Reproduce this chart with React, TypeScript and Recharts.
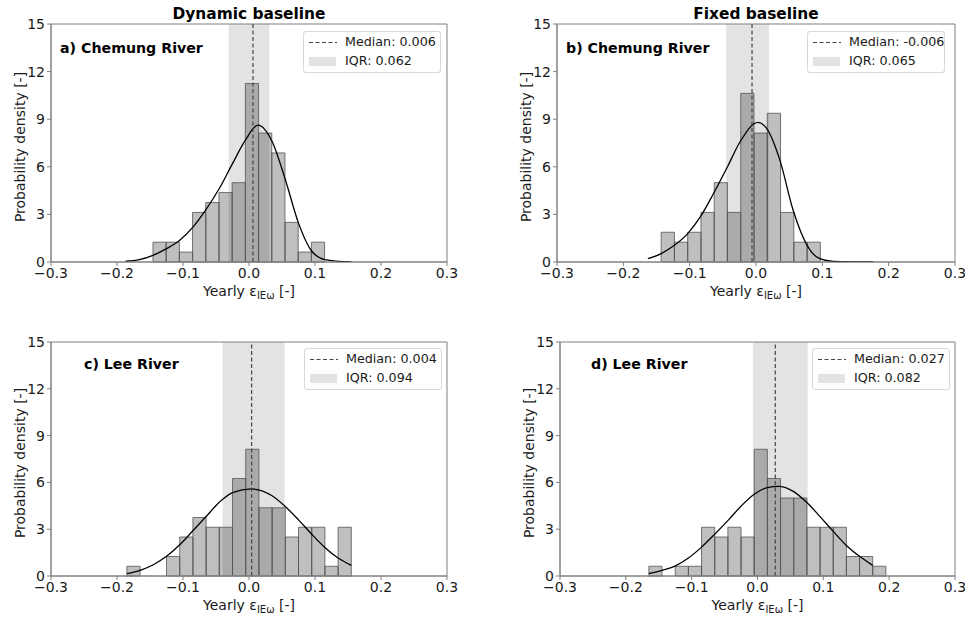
import { ComposedChart, Line, XAxis, YAxis, ReferenceArea, ReferenceLine } from "recharts";

const xTicks = [-0.3, -0.2, -0.1, 0, 0.1, 0.2, 0.3];
const yTicks = [0, 3, 6, 9, 12, 15];

const titles = ["Dynamic baseline", "Fixed baseline"];

// a) Chemung River, dynamic baseline
const edgesA = [-0.1455, -0.1255, -0.1055, -0.0855, -0.0655, -0.0455, -0.0255, -0.0055, 0.0145, 0.0345, 0.0545, 0.0745, 0.0945, 0.1145];
const densA = [1.25, 1.25, 0.625, 3.125, 3.75, 4.375, 5.0, 11.25, 8.125, 6.875, 2.5, 0.625, 1.25];
const curveA = [
  { x: -0.187, y: 0.05 }, { x: -0.166, y: 0.15 }, { x: -0.1455, y: 0.42 }, { x: -0.125, y: 0.84 },
  { x: -0.105, y: 1.37 }, { x: -0.085, y: 2.2 }, { x: -0.066, y: 3.26 }, { x: -0.045, y: 4.63 },
  { x: -0.025, y: 6.2 }, { x: -0.0055, y: 7.68 }, { x: 0.0136, y: 8.63 }, { x: 0.035, y: 7.6 },
  { x: 0.055, y: 5.2 }, { x: 0.075, y: 2.45 }, { x: 0.094, y: 0.74 }, { x: 0.115, y: 0.15 },
  { x: 0.155, y: 0.0 },
];

// b) Chemung River, fixed baseline
const edgesB = [-0.143, -0.123, -0.103, -0.083, -0.063, -0.043, -0.023, -0.003, 0.017, 0.037, 0.057, 0.077, 0.097];
const densB = [1.875, 1.25, 1.875, 3.125, 5.0, 3.125, 10.625, 8.125, 9.375, 3.125, 1.25, 1.25];
const curveB = [
  { x: -0.163, y: 0.21 }, { x: -0.143, y: 0.53 }, { x: -0.123, y: 1.05 }, { x: -0.103, y: 1.79 },
  { x: -0.084, y: 2.84 }, { x: -0.064, y: 4.32 }, { x: -0.043, y: 6.0 }, { x: -0.024, y: 7.58 },
  { x: 0.003, y: 8.8 }, { x: 0.016, y: 8.42 }, { x: 0.036, y: 6.42 }, { x: 0.056, y: 3.26 },
  { x: 0.077, y: 1.05 }, { x: 0.096, y: 0.21 }, { x: 0.117, y: 0.04 }, { x: 0.177, y: 0.0 },
];

// c) Lee River, dynamic baseline
const edgesC = [-0.185, -0.165, -0.145, -0.125, -0.105, -0.085, -0.065, -0.045, -0.025, -0.005, 0.015, 0.035, 0.055, 0.075, 0.095, 0.115, 0.135, 0.155];
const densC = [0.625, 0, 0, 1.25, 2.5, 3.75, 3.125, 3.125, 6.25, 8.125, 4.375, 4.375, 2.5, 3.125, 3.125, 0.625, 3.125];
const curveC = [
  { x: -0.185, y: 0.15 }, { x: -0.165, y: 0.36 }, { x: -0.145, y: 0.72 }, { x: -0.125, y: 1.26 },
  { x: -0.105, y: 2.0 }, { x: -0.085, y: 2.9 }, { x: -0.065, y: 3.81 }, { x: -0.045, y: 4.73 },
  { x: -0.025, y: 5.35 }, { x: 0.004, y: 5.58 }, { x: 0.035, y: 5.14 }, { x: 0.055, y: 4.45 },
  { x: 0.075, y: 3.6 }, { x: 0.095, y: 2.68 }, { x: 0.115, y: 1.83 }, { x: 0.135, y: 1.15 },
  { x: 0.155, y: 0.68 },
];

// d) Lee River, fixed baseline
const edgesD = [-0.165, -0.145, -0.125, -0.105, -0.085, -0.065, -0.045, -0.025, -0.005, 0.015, 0.035, 0.055, 0.075, 0.095, 0.115, 0.135, 0.155, 0.175, 0.195];
const densD = [0.625, 0, 0.625, 0.625, 3.125, 2.5, 3.125, 2.5, 8.125, 6.25, 5.0, 5.0, 3.125, 3.125, 3.125, 1.25, 1.25, 0.625];
const curveD = [
  { x: -0.165, y: 0.15 }, { x: -0.145, y: 0.36 }, { x: -0.124, y: 0.66 }, { x: -0.105, y: 1.15 },
  { x: -0.085, y: 1.85 }, { x: -0.065, y: 2.68 }, { x: -0.044, y: 3.6 }, { x: -0.024, y: 4.52 },
  { x: -0.005, y: 5.24 }, { x: 0.015, y: 5.67 }, { x: 0.032, y: 5.75 }, { x: 0.055, y: 5.41 },
  { x: 0.075, y: 4.71 }, { x: 0.095, y: 3.81 }, { x: 0.115, y: 2.86 }, { x: 0.135, y: 1.96 },
  { x: 0.155, y: 1.26 }, { x: 0.175, y: 0.68 },
];

const medians = [0.006, -0.006, 0.004, 0.027];
const iqrBands = [[-0.031, 0.031], [-0.045, 0.0195], [-0.040, 0.054], [-0.0068, 0.0762]];
const medianLabels = ["Median: 0.006", "Median: -0.006", "Median: 0.004", "Median: 0.027"];
const iqrLabels = ["IQR: 0.062", "IQR: 0.065", "IQR: 0.094", "IQR: 0.082"];
const panelLabels = ["a) Chemung River", "b) Chemung River", "c) Lee River", "d) Lee River"];

const FONT = "'DejaVu Sans', sans-serif";

const fmtX = (v: number) => (v < -1e-9 ? "\u2212" : "") + Math.abs(v).toFixed(1);

const panels = [
  { edges: edgesA, dens: densA, curve: curveA, left: 0, top: 0, width: 460, height: 292, mr: 13, labelX: 60, labelY: 40, legendX: 303, legendY: 31 },
  { edges: edgesB, dens: densB, curve: curveB, left: 506, top: 0, width: 459, height: 292, mr: 10, labelX: 566, labelY: 40, legendX: 807, legendY: 31 },
  { edges: edgesC, dens: densC, curve: curveC, left: 0, top: 318, width: 460, height: 288, mr: 13, labelX: 84, labelY: 356, legendX: 304, legendY: 348 },
  { edges: edgesD, dens: densD, curve: curveD, left: 509, top: 318, width: 456, height: 288, mr: 10, labelX: 591, labelY: 356, legendX: 812, legendY: 348 },
];

function Panel({ i }: { i: number }) {
  const p = panels[i];
  const bins = p.dens.map((d, k) => ({ x1: p.edges[k], x2: p.edges[k + 1], d }));
  const plotLeft = p.left + 51;
  const plotRight = p.left + p.width - p.mr;
  const plotTop = p.top + 24;
  const plotBottom = p.top + p.height - 30;
  const cx = (plotLeft + plotRight) / 2;
  const cy = (plotTop + plotBottom) / 2;
  return (
    <>
      <div style={{ position: "absolute", left: p.left, top: p.top }}>
        <ComposedChart width={p.width} height={p.height} data={p.curve} margin={{ top: 24, right: p.mr, bottom: 0, left: 0 }}>
          <XAxis
            dataKey="x"
            type="number"
            domain={[-0.3, 0.3]}
            ticks={xTicks}
            tickFormatter={fmtX}
            allowDataOverflow
            interval={0}
            height={30}
            stroke="#808080"
            tickSize={4}
            tickMargin={2}
            tick={{ fill: "#1a1a1a", fontSize: 14, fontFamily: FONT }}
          />
          <YAxis
            type="number"
            domain={[0, 15]}
            ticks={yTicks}
            allowDataOverflow
            interval={0}
            width={51}
            stroke="#808080"
            tickSize={4}
            tickMargin={2}
            tick={{ fill: "#1a1a1a", fontSize: 14, fontFamily: FONT }}
          />
          <ReferenceArea x1={iqrBands[i][0]} x2={iqrBands[i][1]} y1={0} y2={15} fill="#000" fillOpacity={0.11} stroke="none" />
          {bins.filter((b) => b.d > 0).map((b, k) => (
            <ReferenceArea key={k} x1={b.x1} x2={b.x2} y1={0} y2={b.d} fill="#000" fillOpacity={0.25} stroke="#555" strokeOpacity={0.8} strokeWidth={1} />
          ))}
          <Line type="monotone" dataKey="y" stroke="#000" strokeWidth={1.3} dot={false} isAnimationActive={false} />
          <ReferenceLine x={medians[i]} stroke="#444" strokeWidth={1.2} strokeDasharray="4 2.5" />
          <ReferenceArea x1={-0.3} x2={0.3} y1={0} y2={15} fill="none" stroke="#808080" strokeWidth={1} />
        </ComposedChart>
      </div>
      <div style={{ position: "absolute", left: p.labelX, top: p.labelY, fontFamily: FONT, fontWeight: "bold", fontSize: 14.2, color: "#000", whiteSpace: "nowrap" }}>
        {panelLabels[i]}
      </div>
      <div
        style={{
          position: "absolute", left: p.legendX, top: p.legendY, width: 136, height: 40,
          border: "1px solid #d8d8d8", borderRadius: 3, background: "rgba(255,255,255,0.8)",
          fontFamily: FONT, fontSize: 12.7, color: "#1a1a1a",
        }}
      >
        <svg width={30} height={40} style={{ position: "absolute", left: 4, top: 0 }}>
          <line x1={1} x2={29} y1={10.5} y2={10.5} stroke="#444" strokeWidth={1.2} strokeDasharray="4 2.5" />
          <rect x={1} y={25} width={27} height={9} fill="#e3e3e3" />
        </svg>
        <div style={{ position: "absolute", left: 41, top: 2, whiteSpace: "nowrap" }}>{medianLabels[i]}</div>
        <div style={{ position: "absolute", left: 41, top: 21, whiteSpace: "nowrap" }}>{iqrLabels[i]}</div>
      </div>
      <div
        style={{
          position: "absolute", left: p.left + 20, top: cy + 4, transform: "translate(-50%, -50%) rotate(-90deg)",
          fontFamily: FONT, fontSize: 14, color: "#1a1a1a", whiteSpace: "nowrap",
        }}
      >
        Probability density [-]
      </div>
      <div
        style={{
          position: "absolute", left: cx, top: plotBottom + 29, transform: "translate(-50%, -50%)",
          fontFamily: FONT, fontSize: 14, color: "#1a1a1a", whiteSpace: "nowrap",
        }}
      >
        Yearly ε<span style={{ fontSize: 10, position: "relative", top: 3 }}>IEω</span> [-]
      </div>
      {i < 2 && (
        <div
          style={{
            position: "absolute", left: cx, top: 14, transform: "translate(-50%, -50%)",
            fontFamily: FONT, fontWeight: "bold", fontSize: 15.4, color: "#000", whiteSpace: "nowrap",
          }}
        >
          {titles[i]}
        </div>
      )}
    </>
  );
}

export default function App() {
  return (
    <div style={{ position: "absolute", left: 0, top: 0, width: 969, height: 620, background: "#fff", overflow: "hidden" }}>
      {panels.map((_, i) => (
        <Panel key={i} i={i} />
      ))}
    </div>
  );
}
